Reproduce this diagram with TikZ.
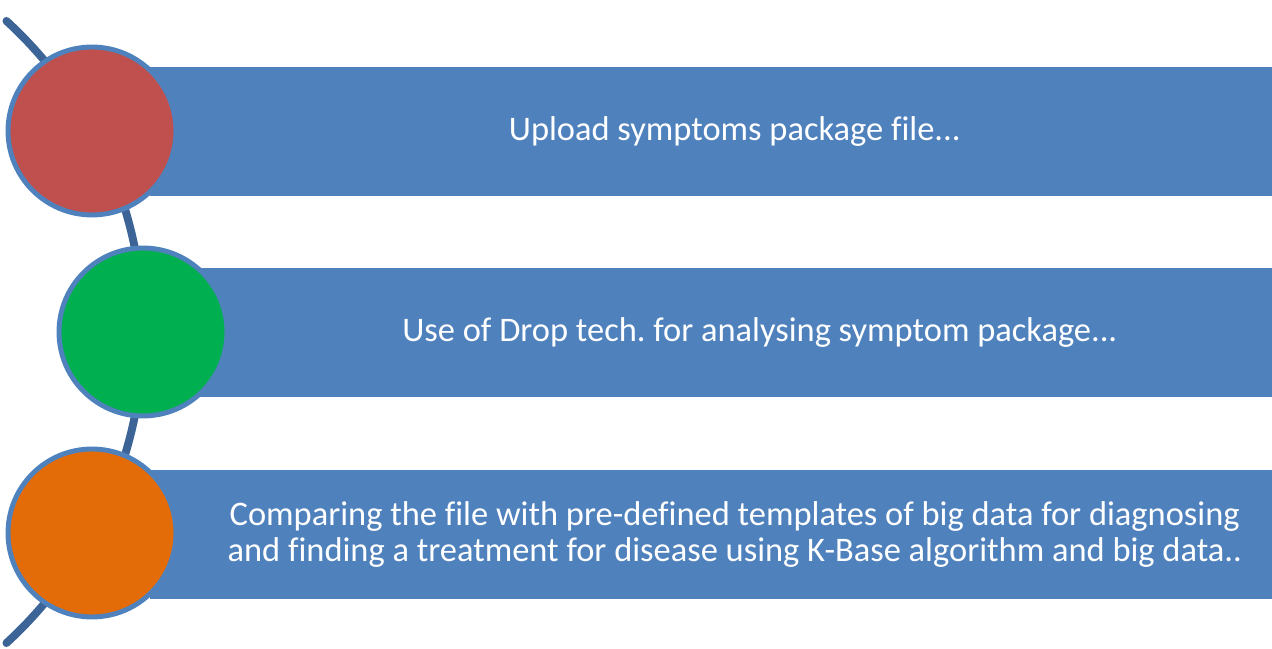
\documentclass[tikz,border=0pt]{standalone}
\usepackage{fontspec}
\setmainfont[Ligatures={NoCommon}]{Carlito}
\frenchspacing
\usetikzlibrary{calc}
\definecolor{barblue}{HTML}{4F81BD}
\definecolor{spineblue}{HTML}{3C6496}
\definecolor{stepred}{HTML}{C0504D}
\definecolor{stepgreen}{HTML}{00B050}
\definecolor{steporange}{HTML}{E36C09}
\tikzset{
  bar/.style={fill=barblue, draw=none, minimum height=2.58cm, inner sep=0pt, anchor=east},
  bartext/.style={text=white, align=center, font=\fontsize{19.6}{20.5}\selectfont},
  dot/.style={circle, draw=barblue, line width=2.8pt, minimum size=3.36cm, inner sep=0pt}
}
\begin{document}
\begin{tikzpicture}[x=0.02cm, y=0.02cm, line join=round, line cap=round]
  \useasboundingbox (0,0) rectangle (1272,649);
  % spine arc
  \coordinate (O) at (-278.6,317);
  \coordinate (S) at ($(O)+(47.5:8.44cm)$);
  \draw[spineblue, line width=4.5pt] (S) arc[start angle=47.5, end angle=-47.5, radius=8.44cm];
  % bars
  \node[bar, minimum width=22.44cm] (bar1) at (1272,517.5) {};
  \node[bar, minimum width=21.44cm] (bar2) at (1272,316.5) {};
  \node[bar, minimum width=22.44cm] (bar3) at (1272,114.5) {};
  \node[bartext] (t1) at ($(bar1.center)+(24,0)$) {Upload symptoms package file...};
  \node[bartext] (t2) at ($(bar2.center)+(24,0)$) {Use of Drop tech. for analysing symptom package...};
  \node[bartext] (t3) at ($(bar3.center)+(24,0)$) {Comparing the file with pre-defined templates of big data for diagnosing\\and finding a treatment for disease using K-Base algorithm and big data..};
  % steps
  \foreach \i/\x/\y/\c in {1/92/518/stepred, 2/143/317/stepgreen, 3/92/116/steporange}{
    \node[dot, fill=\c] (step\i) at (\x,\y) {};
  }
\end{tikzpicture}
\end{document}
